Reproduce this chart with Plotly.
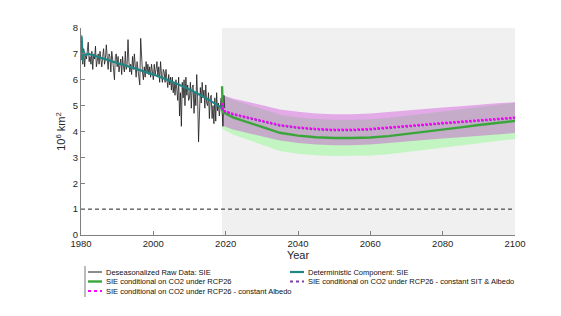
import numpy as np
import plotly.graph_objects as go

# ---------------- data ----------------
raw_years = np.arange(1980, 2020, 0.25)
raw_sie = [
    6.9, 7.1, 6.6, 7.2,   6.5, 7.0, 6.8, 7.3,   7.45, 6.7, 6.9, 6.6,  7.1, 6.4, 7.0, 6.8,
    7.3, 6.5, 6.9, 7.0,   6.6, 7.1, 6.8, 6.5,   6.9, 7.2, 6.6, 6.8,   7.35, 6.7, 6.4, 7.0,
    6.9, 6.3, 7.1, 6.8,   6.4, 6.0, 6.9, 7.0,   6.5, 6.9, 6.3, 6.7,   6.8, 6.2, 6.9, 6.5,
    6.3, 7.1, 6.4, 6.6,   7.55, 6.7, 6.3, 6.6,  6.2, 6.9, 6.4, 7.0,   6.5, 6.1, 6.7, 6.3,
    6.0, 5.8, 7.6, 6.6,   6.3, 6.0, 6.5, 6.1,   6.7, 6.3, 6.6, 6.2,   6.5, 6.1, 6.6, 6.3,
    6.0, 6.6, 6.2, 6.4,   6.7, 6.1, 6.5, 5.9,   6.7, 6.2, 5.9, 6.4,   6.3, 5.9, 6.4, 6.0,
    5.7, 6.2, 5.8, 6.1,   5.6, 6.1, 5.5, 5.9,   5.4, 6.0, 5.7, 5.2,   6.1, 4.6, 5.5, 4.2,
    5.9, 5.3, 6.0, 5.0,   6.1, 5.4, 5.8, 5.2,   5.3, 5.9, 4.9, 5.7,   5.8, 4.7, 5.5, 5.0,
    6.2, 5.3, 3.6, 5.0,   5.7, 5.1, 5.9, 5.3,   5.6, 4.9, 5.8, 5.1,   5.0, 5.5, 4.5, 5.3,
    5.4, 4.5, 5.0, 4.3,   5.3, 4.4, 5.5, 4.8,   5.1, 4.6, 4.9, 5.3,   4.8, 4.2, 5.4, 4.9,
]

det_years = [1980.0, 1980.2, 1980.45, 1980.7, 1981.2, 1982, 1985, 1990, 1995, 2000, 2005, 2010, 2015, 2019.3]
det_sie = [6.75, 7.7, 6.75, 7.1, 6.95, 7.0, 6.87, 6.65, 6.43, 6.2, 5.93, 5.62, 5.25, 4.88]

proj_years = [2019.0, 2019.2, 2022, 2025, 2030, 2035, 2040, 2045, 2050, 2055, 2060, 2065,
              2070, 2075, 2080, 2085, 2090, 2095, 2100]
green_mean = [5.75, 4.75, 4.55, 4.42, 4.18, 3.95, 3.84, 3.78, 3.75, 3.75, 3.77, 3.82,
              3.90, 3.98, 4.07, 4.16, 4.25, 4.33, 4.41]
green_up = [5.40, 5.40, 5.22, 5.10, 4.88, 4.65, 4.54, 4.48, 4.45, 4.45, 4.47, 4.52,
            4.60, 4.68, 4.77, 4.86, 4.95, 5.03, 5.11]
green_lo = [4.10, 4.10, 3.88, 3.74, 3.48, 3.25, 3.14, 3.08, 3.05, 3.05, 3.07, 3.12,
            3.20, 3.28, 3.37, 3.46, 3.55, 3.63, 3.71]
albedo_mean = [5.10, 4.82, 4.68, 4.58, 4.40, 4.25, 4.16, 4.10, 4.07, 4.07, 4.10, 4.15,
               4.21, 4.27, 4.33, 4.38, 4.44, 4.49, 4.54]
sit_albedo_mean = [5.05, 4.80, 4.66, 4.56, 4.38, 4.23, 4.14, 4.08, 4.05, 4.05, 4.08, 4.13,
                   4.19, 4.25, 4.31, 4.36, 4.42, 4.47, 4.52]
albedo_up = [5.40, 5.40, 5.28, 5.18, 5.00, 4.85, 4.76, 4.70, 4.67, 4.67, 4.70, 4.75,
             4.81, 4.87, 4.93, 4.98, 5.04, 5.09, 5.13]
albedo_lo = [4.22, 4.22, 4.08, 3.98, 3.80, 3.65, 3.56, 3.50, 3.47, 3.47, 3.50, 3.55,
             3.61, 3.67, 3.73, 3.78, 3.84, 3.89, 3.94]

threshold = 1.0
x_range = [1980, 2100]
y_range = [0, 8]
x_ticks = [1980, 2000, 2020, 2040, 2060, 2080, 2100]
y_ticks = [0, 1, 2, 3, 4, 5, 6, 7, 8]
proj_start = 2019

names = [
    "Deseasonalized Raw Data: SIE",
    "Deterministic Component: SIE",
    "SIE conditional on CO2 under RCP26",
    "SIE conditional on CO2 under RCP26 - constant SIT & Albedo",
    "SIE conditional on CO2 under RCP26 - constant Albedo",
]

# ---------------- styles ----------------
C_RAW = "#1a1a1a"
C_DET = "#1f8585"
C_GREEN = "#3aa63a"
C_PURPLE = "#7b3fa8"
C_MAG = "#ff00ff"
C_GREEN_BAND = "#c3f5c3"
C_MAG_BAND = "rgba(201,34,218,0.34)"
FONT = "Liberation Sans, Arial, sans-serif"

fig = go.Figure()

# projection shading
fig.add_shape(type="rect", xref="x", yref="y", x0=proj_start, x1=x_range[1],
              y0=y_range[0], y1=y_range[1], fillcolor="#f0f0f0", line_width=0, layer="below")

# green band
fig.add_trace(go.Scatter(x=proj_years, y=green_up, mode="lines", line=dict(width=0),
                         showlegend=False, hoverinfo="skip"))
fig.add_trace(go.Scatter(x=proj_years, y=green_lo, mode="lines", line=dict(width=0),
                         fill="tonexty", fillcolor=C_GREEN_BAND, showlegend=False, hoverinfo="skip"))
# magenta band
fig.add_trace(go.Scatter(x=proj_years, y=albedo_up, mode="lines", line=dict(width=0),
                         showlegend=False, hoverinfo="skip"))
fig.add_trace(go.Scatter(x=proj_years, y=albedo_lo, mode="lines", line=dict(width=0),
                         fill="tonexty", fillcolor=C_MAG_BAND, showlegend=False, hoverinfo="skip"))

# threshold
fig.add_trace(go.Scatter(x=x_range, y=[threshold, threshold], mode="lines",
                         line=dict(color="#222", width=1, dash="4px,3px"), showlegend=False))

# series
fig.add_trace(go.Scatter(x=raw_years, y=raw_sie, mode="lines", name=names[0],
                         line=dict(color=C_RAW, width=0.8), showlegend=False))
fig.add_trace(go.Scatter(x=det_years, y=det_sie, mode="lines", name=names[1],
                         line=dict(color=C_DET, width=2.2, shape="spline", smoothing=0.4), showlegend=False))
fig.add_trace(go.Scatter(x=proj_years, y=green_mean, mode="lines", name=names[2],
                         line=dict(color=C_GREEN, width=2.4), showlegend=False))
fig.add_trace(go.Scatter(x=proj_years, y=sit_albedo_mean, mode="lines", name=names[3],
                         line=dict(color=C_PURPLE, width=2.2, dash="2px,2px"), showlegend=False))
fig.add_trace(go.Scatter(x=proj_years, y=albedo_mean, mode="lines", name=names[4],
                         line=dict(color=C_MAG, width=2.2, dash="2px,2px"), showlegend=False))

# ---------------- manual legend (MATLAB-style compact) ----------------
L, T, W, H = 73, 20, 434, 207
def px(xp):
    return (xp - L) / W
def py(yp):
    return (T + H - yp) / H

legend_items = [
    (names[0], C_RAW, 1, "solid", 80, 264),
    (names[1], C_DET, 2.2, "solid", 282, 264),
    (names[2], C_GREEN, 2.4, "solid", 80, 273.5),
    (names[3], C_PURPLE, 2, "dot", 282, 273.5),
    (names[4], C_MAG, 2, "dot", 80, 283),
]
for text, col, w, dash, x0, y0 in legend_items:
    fig.add_shape(type="line", xref="paper", yref="paper", x0=px(x0), x1=px(x0 + 14),
                  y0=py(y0), y1=py(y0), line=dict(color=col, width=w, dash=dash))
    fig.add_annotation(xref="paper", yref="paper", x=px(x0 + 16), y=py(y0), text=text,
                       showarrow=False, xanchor="left", yanchor="middle",
                       font=dict(size=7.5, color="#111", family=FONT))
fig.add_shape(type="line", xref="paper", yref="paper", x0=px(77), x1=px(77),
              y0=py(258), y1=py(289), line=dict(color="#555", width=0.8))

fig.update_layout(
    width=561, height=316,
    margin=dict(l=L, r=561 - L - W, t=T, b=316 - T - H),
    plot_bgcolor="white", paper_bgcolor="white",
    font=dict(family=FONT, size=10, color="#262626"),
    showlegend=False,
)
fig.update_xaxes(range=x_range, tickvals=x_ticks, ticks="inside", ticklen=4, tickcolor="#808080",
                 showline=True, linecolor="#808080", linewidth=1, showgrid=False, zeroline=False,
                 title=dict(text="Year", font=dict(size=11), standoff=2), tickfont=dict(size=9.5))
fig.update_yaxes(range=y_range, tickvals=y_ticks, ticks="inside", ticklen=4, tickcolor="#808080",
                 showline=True, linecolor="#808080", linewidth=1, showgrid=False, zeroline=False,
                 title=dict(text="10<sup>6</sup> km<sup>2</sup>", font=dict(size=11), standoff=4),
                 tickfont=dict(size=9.5))

fig.write_html("out.html")
